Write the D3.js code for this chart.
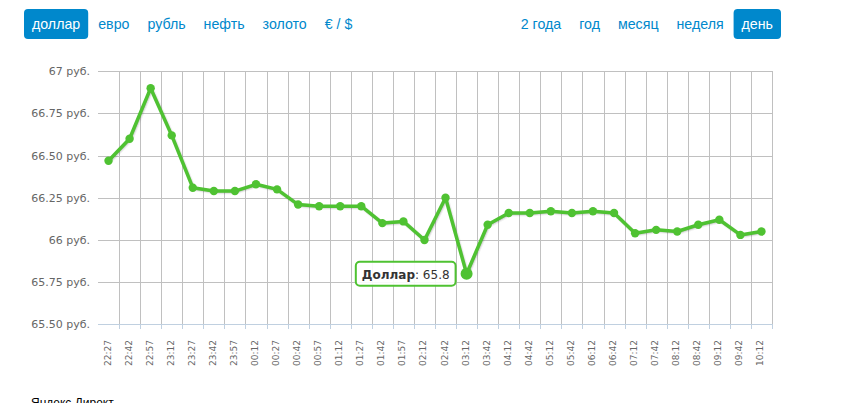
<!DOCTYPE html>
<html>
<head>
<meta charset="utf-8">
<script src="https://cdn.jsdelivr.net/npm/d3@7"></script>
<style>
  body { margin: 0; background: #fff; }
  svg { display: block; }
</style>
</head>
<body>
<div id="chart"></div>
<script>
// Data
const times = ["22:27","22:42","22:57","23:12","23:27","23:42","23:57","00:12","00:27","00:42",
  "00:57","01:12","01:27","01:42","01:57","02:12","02:42","03:12","03:42","04:12","04:42",
  "05:12","05:42","06:12","06:42","07:12","07:42","08:12","08:42","09:12","09:42","10:12"];
const rates = [66.47, 66.60, 66.90, 66.62, 66.31, 66.29, 66.29, 66.33, 66.30, 66.21,
  66.20, 66.20, 66.20, 66.10, 66.11, 66.00, 66.25, 65.80, 66.09, 66.16, 66.16,
  66.17, 66.16, 66.17, 66.16, 66.04, 66.06, 66.05, 66.09, 66.12, 66.03, 66.05];
const yTicks = [65.5, 65.75, 66, 66.25, 66.5, 66.75, 67];
const yTickLabels = ["65.50 руб.", "65.75 руб.", "66 руб.", "66.25 руб.", "66.50 руб.", "66.75 руб.", "67 руб."];
const assets = ["доллар", "евро", "рубль", "нефть", "золото", "€ / $"];
const periods = ["2 года", "год", "месяц", "неделя", "день"];
const activeAsset = "доллар", activePeriod = "день";
const seriesName = "Доллар";
const hoverIndex = 17;

const width = 846, height = 403;
const plot = { left: 98, right: 772, top: 71.3, bottom: 324.3 };
const green = "#4fc232", blue = "#0088cc";

const svg = d3.select("#chart").append("svg")
  .attr("width", width)
  .attr("height", height);

// Nav buttons
function navGroup(items, active, startX, alignRight) {
  const g = svg.append("g");
  const nodes = items.map(t => {
    const gi = g.append("g");
    const rect = gi.append("rect").attr("y", 9).attr("height", 30).attr("rx", 4)
      .attr("fill", t === active ? blue : "none");
    const txt = gi.append("text").attr("y", 29)
      .attr("font-family", "Liberation Sans, Arial, sans-serif")
      .attr("font-size", 14.2)
      .attr("fill", t === active ? "#fff" : blue)
      .text(t);
    return { gi, rect, txt, w: txt.node().getComputedTextLength() };
  });
  const total = d3.sum(nodes, n => n.w + 16) + 2 * (nodes.length - 1);
  let x = alignRight ? startX - total : startX;
  nodes.forEach(n => {
    n.rect.attr("x", x).attr("width", n.w + 16);
    n.txt.attr("x", x + 8);
    x += n.w + 18;
  });
}
navGroup(assets, activeAsset, 24, false);
navGroup(periods, activePeriod, 781, true);

// Scales
const x = d3.scaleBand().domain(times).range([plot.left, plot.right]).paddingInner(0).paddingOuter(0);
const y = d3.scaleLinear().domain([65.5, 67]).range([plot.bottom, plot.top]);
const cx = d => x(d) + x.bandwidth() / 2;

// Grid
const grid = svg.append("g").attr("stroke", "#c0c0c0").attr("stroke-width", 1).attr("shape-rendering", "crispEdges");
grid.selectAll("line.h")
  .data(yTicks.slice(1))
  .join("line")
  .attr("x1", plot.left).attr("x2", plot.right)
  .attr("y1", d => Math.round(y(d)) + 0.5).attr("y2", d => Math.round(y(d)) + 0.5);
grid.selectAll("line.v")
  .data(times)
  .join("line")
  .attr("x1", d => Math.round(x(d) + x.bandwidth()) + 0.5)
  .attr("x2", d => Math.round(x(d) + x.bandwidth()) + 0.5)
  .attr("y1", plot.top).attr("y2", plot.bottom);

// Y axis labels
svg.append("g").selectAll("text")
  .data(yTicks)
  .join("text")
  .attr("x", 90)
  .attr("y", d => y(d) + 4)
  .attr("text-anchor", "end")
  .attr("font-family", "DejaVu Sans, Verdana, sans-serif")
  .attr("font-size", 11)
  .attr("fill", "#666")
  .text((d, i) => yTickLabels[i]);

// X axis
const xAxis = svg.append("g").attr("shape-rendering", "crispEdges");
xAxis.append("line")
  .attr("x1", plot.left).attr("x2", plot.right)
  .attr("y1", Math.round(plot.bottom) + 0.5).attr("y2", Math.round(plot.bottom) + 0.5)
  .attr("stroke", "#c0d0e0");
xAxis.selectAll("line.tick")
  .data(times)
  .join("line")
  .attr("class", "tick")
  .attr("x1", d => Math.round(x(d) + x.bandwidth()) + 0.5)
  .attr("x2", d => Math.round(x(d) + x.bandwidth()) + 0.5)
  .attr("y1", plot.bottom).attr("y2", plot.bottom + 5)
  .attr("stroke", "#c0d0e0");
xAxis.selectAll("text")
  .data(times)
  .join("text")
  .attr("transform", d => `translate(${cx(d) + 2},340) rotate(-90)`)
  .attr("text-anchor", "end")
  .attr("font-family", "DejaVu Sans, Verdana, sans-serif")
  .attr("font-size", 9)
  .attr("fill", "#666")
  .text(d => d);

// Line
const line = d3.line().x((d, i) => cx(times[i])).y(d => y(d));
[[5, 0.05], [3, 0.1], [1, 0.15]].forEach(([w, o]) => {
  svg.append("path")
    .attr("d", line(rates))
    .attr("transform", "translate(1,1)")
    .attr("fill", "none")
    .attr("stroke", "#000")
    .attr("stroke-opacity", o)
    .attr("stroke-width", w)
    .attr("stroke-linejoin", "round");
});
svg.append("path")
  .attr("d", line(rates))
  .attr("fill", "none")
  .attr("stroke", green)
  .attr("stroke-width", 3.5)
  .attr("stroke-linejoin", "round");

svg.append("g").selectAll("circle")
  .data(rates)
  .join("circle")
  .attr("cx", (d, i) => cx(times[i]))
  .attr("cy", d => y(d))
  .attr("r", (d, i) => i === hoverIndex ? 6 : 4.2)
  .attr("fill", green);

// Tooltip
const hx = cx(times[hoverIndex]), hy = y(rates[hoverIndex]);
const tip = svg.append("g");
const tipText = tip.append("text")
  .attr("font-family", "DejaVu Sans, Verdana, sans-serif")
  .attr("font-size", 12)
  .attr("fill", "#333");
tipText.append("tspan").attr("font-weight", "bold").text(seriesName);
tipText.append("tspan").text(": " + rates[hoverIndex].toFixed(1));
const tw = tipText.node().getComputedTextLength();
const tipW = tw + 12, tipH = 24;
const tipX = hx - 11 - tipW, tipY = hy - tipH / 2;
tip.insert("rect", "text")
  .attr("x", tipX).attr("y", tipY)
  .attr("width", tipW).attr("height", tipH)
  .attr("rx", 4)
  .attr("fill", "#fff").attr("fill-opacity", 0.9)
  .attr("stroke", green).attr("stroke-width", 2);
tipText.attr("x", tipX + 6).attr("y", tipY + 17);

// Footer
svg.append("text")
  .attr("x", 31).attr("y", 407)
  .attr("font-family", "Liberation Sans, Arial, sans-serif")
  .attr("font-size", 12)
  .attr("fill", "#000")
  .text("Яндекс.Директ");
</script>
</body>
</html>
